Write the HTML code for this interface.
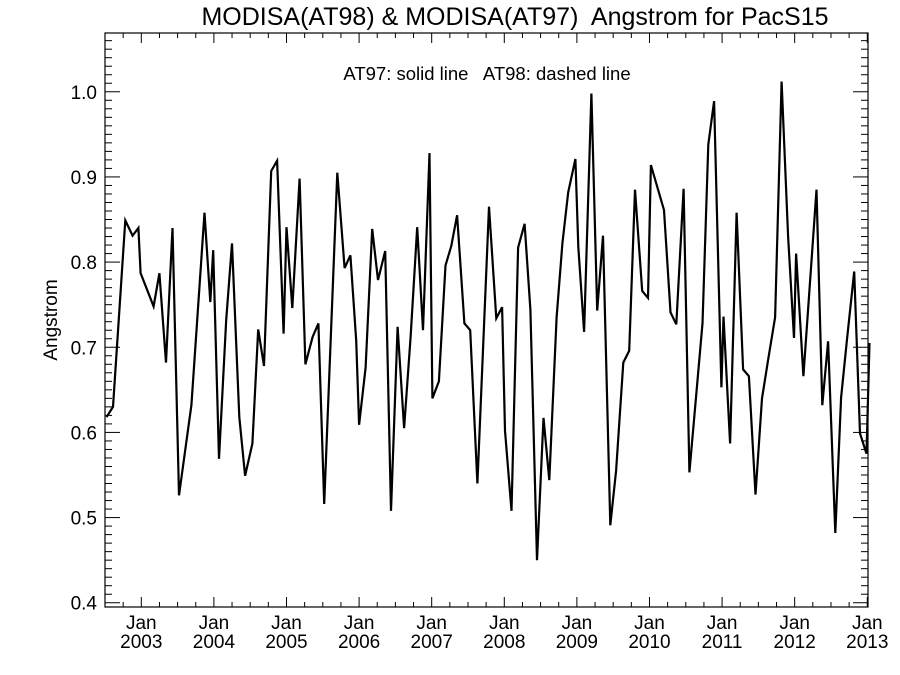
<!DOCTYPE html>
<html><head><meta charset="utf-8"><style>
body{margin:0;background:#fff}
svg{display:block;font-family:"Liberation Sans",sans-serif}
text{white-space:pre}
</style></head><body>
<svg id="chart" width="900" height="675">
<text x="515" y="25" text-anchor="middle" font-size="25" xml:space="preserve">MODISA(AT98) &amp; MODISA(AT97)  Angstrom for PacS15</text>
<text x="487" y="80" text-anchor="middle" font-size="18.5" xml:space="preserve">AT97: solid line   AT98: dashed line</text>
<text transform="translate(57,320) rotate(-90)" text-anchor="middle" font-size="19">Angstrom</text>
<rect x="105" y="33" width="763" height="574" fill="none" stroke="#000" stroke-width="1.2"/>
<g id="axes"></g>
<path id="series" fill="none" stroke="#000" stroke-width="2.2" stroke-linejoin="miter"/>
</svg>
<script>
const dates=[2002.52,2002.61,2002.78,2002.88,2002.96,2002.99,2003.17,2003.25,2003.34,2003.43,2003.52,2003.69,2003.87,2003.95,2003.99,2004.07,2004.17,2004.25,2004.35,2004.43,2004.53,2004.61,2004.69,2004.79,2004.87,2004.96,2005.00,2005.08,2005.18,2005.26,2005.36,2005.44,2005.52,2005.70,2005.80,2005.88,2005.96,2006.00,2006.09,2006.18,2006.26,2006.36,2006.44,2006.53,2006.62,2006.71,2006.80,2006.88,2006.97,2007.01,2007.10,2007.19,2007.27,2007.35,2007.45,2007.53,2007.63,2007.79,2007.89,2007.97,2008.01,2008.10,2008.19,2008.28,2008.36,2008.45,2008.54,2008.62,2008.72,2008.80,2008.88,2008.98,2009.02,2009.10,2009.20,2009.28,2009.36,2009.46,2009.54,2009.64,2009.72,2009.80,2009.90,2009.98,2010.02,2010.20,2010.29,2010.37,2010.47,2010.55,2010.73,2010.81,2010.89,2010.99,2011.02,2011.11,2011.20,2011.29,2011.37,2011.46,2011.55,2011.64,2011.73,2011.82,2011.91,2011.99,2012.02,2012.12,2012.30,2012.38,2012.46,2012.56,2012.64,2012.72,2012.82,2012.90,2012.99,2013.03];
const at97=[0.618,0.630,0.849,0.831,0.840,0.787,0.748,0.787,0.682,0.840,0.526,0.632,0.858,0.753,0.814,0.569,0.732,0.822,0.618,0.549,0.587,0.721,0.678,0.907,0.919,0.716,0.841,0.746,0.898,0.680,0.712,0.728,0.516,0.905,0.793,0.808,0.708,0.609,0.676,0.839,0.779,0.813,0.508,0.724,0.605,0.712,0.841,0.720,0.928,0.640,0.660,0.796,0.819,0.855,0.728,0.720,0.540,0.865,0.734,0.747,0.602,0.508,0.817,0.845,0.744,0.450,0.617,0.544,0.735,0.822,0.882,0.921,0.818,0.718,0.998,0.743,0.831,0.491,0.555,0.682,0.696,0.885,0.766,0.758,0.914,0.861,0.741,0.727,0.886,0.553,0.728,0.938,0.989,0.653,0.736,0.587,0.858,0.674,0.666,0.527,0.640,0.688,0.735,1.012,0.830,0.711,0.810,0.666,0.885,0.632,0.707,0.482,0.641,0.708,0.789,0.599,0.575,0.705];
const yTicks=[0.4,0.5,0.6,0.7,0.8,0.9,1.0];
const xYears=[2003,2004,2005,2006,2007,2008,2009,2010,2011,2012,2013];

const X0=105,X1=868,Y0=607,Y1=33;
const xMin=2002.5,xMax=2013.01,yMin=0.395,yMax=1.069;
const xs=v=>X0+(v-xMin)/(xMax-xMin)*(X1-X0);
const ys=v=>Y0-(v-yMin)/(yMax-yMin)*(Y0-Y1);
const NS="http://www.w3.org/2000/svg";
const axes=document.getElementById('axes');
function line(x1,y1,x2,y2,name){
  const l=document.createElementNS(NS,'line');
  l.setAttribute('x1',x1);l.setAttribute('y1',y1);l.setAttribute('x2',x2);l.setAttribute('y2',y2);
  l.setAttribute('stroke','#000');l.setAttribute('stroke-width','1');
  
  
  axes.appendChild(l);
}
function text(x,y,s,name,anchor){
  const t=document.createElementNS(NS,'text');
  t.setAttribute('x',x);t.setAttribute('y',y);t.setAttribute('font-size','19');
  t.setAttribute('text-anchor',anchor||'middle');t.textContent=s;
  
  
  axes.appendChild(t);
}
for(let k=40;k<=106;k++){
  const v=k/100,y=ys(v),major=(k%10===0),len=major?15:7;
  line(X0,y,X0+len,y,'y-tick');
  line(X1,y,X1-len,y,'y-tick-right');
}
yTicks.forEach(v=>text(X0-8,ys(v)+7,v.toFixed(1),'y-tick-label','end'));
for(let q=0;q<=42;q++){
  const v=2002.5+q*0.25;if(v>xMax)break;
  const x=xs(v),major=Math.abs(v-Math.round(v))<1e-6,len=major?10:5;
  line(x,Y0,x,Y0-len,'x-tick');
  line(x,Y1,x,Y1+len,'x-tick-top');
}
xYears.forEach(yr=>{const x=xs(yr);text(x,629,'Jan','x-tick-month');text(x,648,String(yr),'x-tick-year');});
let d='';
dates.forEach((t,i)=>{d+=(i?'L':'M')+xs(t).toFixed(1)+' '+ys(at97[i]).toFixed(1);});
document.getElementById('series').setAttribute('d',d);
</script>
</body></html>
